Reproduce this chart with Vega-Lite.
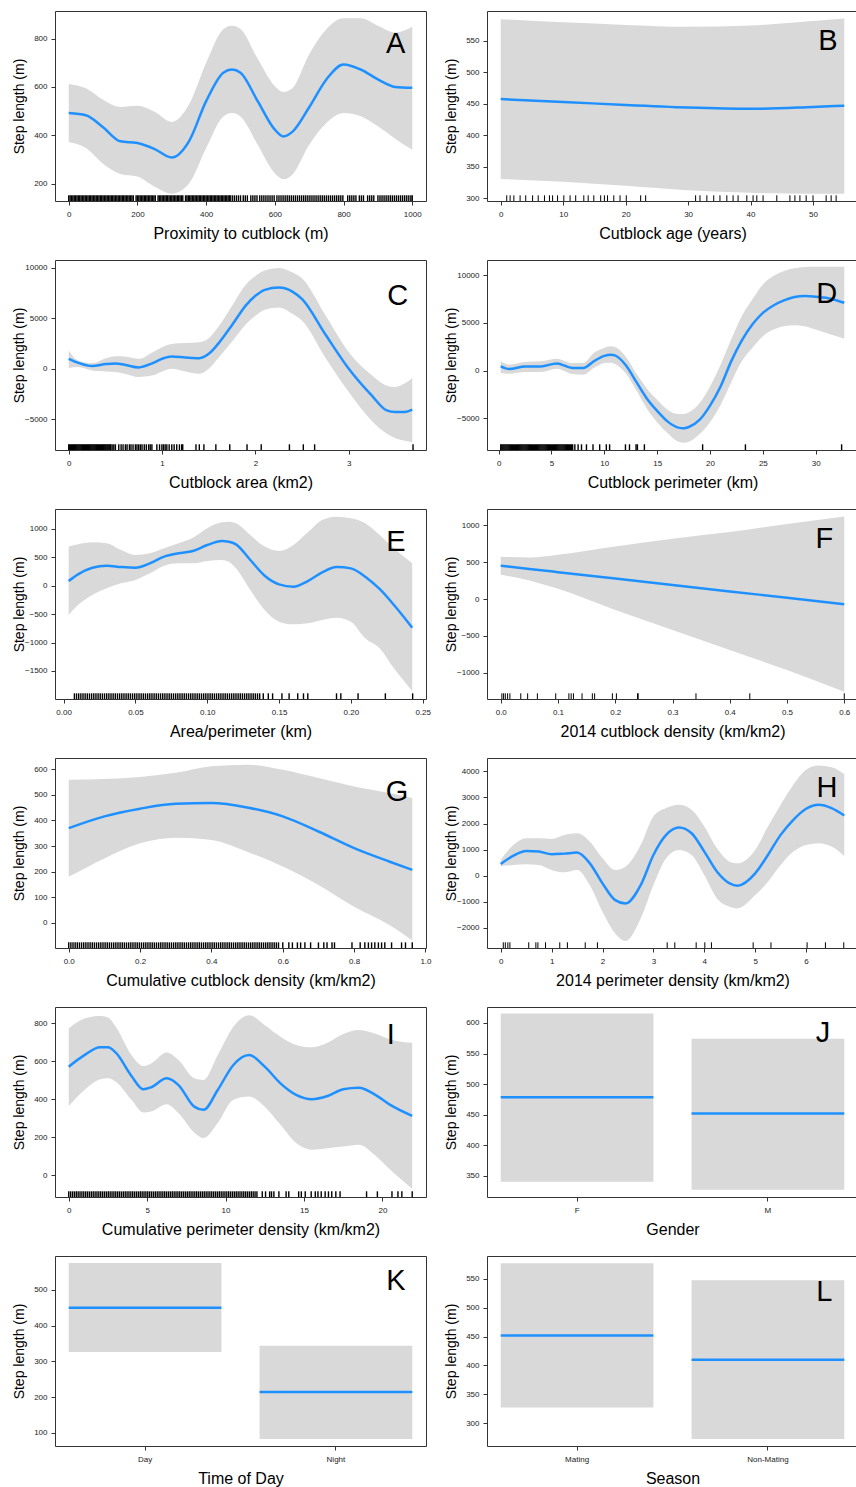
{
"$schema":"https://vega.github.io/schema/vega-lite/v6.json",
"background":"white",
"padding":{"left":11,"top":10,"right":0,"bottom":0},
"columns":2,
"bounds":"flush",
"spacing":{"row":59,"column":61},
"concat":[
{"width":371,"height":190,
 "data":{"values":[
 {"x":0,"fit":492,"lo":372,"hi":612},{"x":50,"fit":483,"lo":347,"hi":594},{"x":100,"fit":433,"lo":282,"hi":547},{"x":150,"fit":375,"lo":240,"hi":517},{"x":200,"fit":368,"lo":229,"hi":522},{"x":250,"fit":343,"lo":187,"hi":497},{"x":300,"fit":308,"lo":158,"hi":455},{"x":350,"fit":375,"lo":200,"hi":527},{"x":400,"fit":541,"lo":347,"hi":700},{"x":450,"fit":659,"lo":478,"hi":839},{"x":475,"fit":672,"lo":492,"hi":853},{"x":500,"fit":659,"lo":478,"hi":840},{"x":550,"fit":541,"lo":361,"hi":716},{"x":600,"fit":423,"lo":243,"hi":603},{"x":625,"fit":395,"lo":218,"hi":579},{"x":650,"fit":413,"lo":236,"hi":593},{"x":700,"fit":516,"lo":361,"hi":735},{"x":750,"fit":631,"lo":451,"hi":839},{"x":800,"fit":693,"lo":492,"hi":884},{"x":850,"fit":672,"lo":479,"hi":884},{"x":900,"fit":631,"lo":437,"hi":853},{"x":950,"fit":600,"lo":386,"hi":825},{"x":1000,"fit":596,"lo":340,"hi":849}]},
 "layer":[
  {"mark":{"type":"area","color":"#D9D9D9","interpolate":"monotone"},
   "encoding":{"x":{"field":"x","type":"quantitative","scale":{"domain":[-40,1040],"nice":false,"zero":false},"axis":{"values":[0,200,400,600,800,1000],"format":"d","tickCount":20,"title":"Proximity to cutblock (m)"}},
    "y":{"field":"lo","type":"quantitative","scale":{"domain":[128,914],"nice":false,"zero":false},"axis":{"values":[200,400,600,800],"format":"d","tickCount":20,"title":"Step length (m)"}},
    "y2":{"field":"hi"}}},
  {"mark":{"type":"line","color":"#1E90FF","strokeWidth":2.5,"interpolate":"monotone"},
   "encoding":{"x":{"field":"x","type":"quantitative"},"y":{"field":"fit","type":"quantitative"}}},
  {"data":{"values":[0,4,8,12,16,20,24,28,32,36,40,44,48,52,56,60,64,68,72,76,80,84,88,92,96,100,104,108,112,116,120,124,128,132,136,140,144,148,152,156,160,164,168,172,176,180,184,188,196,200,204,208,212,216,220,224,228,232,236,240,244,248,252,260,264,268,272,276,280,284,288,292,296,300,304,308,312,316,320,324,328,332,340,344,348,352,356,360,364,368,372,376,380,384,388,392,396,400,404,408,412,416,420,424,428,432,436,440,444,448,452,456,460,464,468,470,476,482,488,494,500,508,514,520,530,536,542,548,556,562,568,574,580,586,592,598,606,612,618,624,630,636,642,648,654,660,666,672,678,684,690,696,702,708,714,720,726,732,738,744,750,756,762,768,774,780,786,792,798,812,818,824,830,836,846,852,858,870,876,882,888,900,906,912,918,924,930,936,942,948,954,960,966,972,978,984,990,996,1000]},
   "mark":{"type":"rule","color":"#000","strokeWidth":1.4},
   "encoding":{"x":{"field":"data","type":"quantitative"},"y":{"datum":128},"y2":{"datum":151.6}}},
  {"data":{"values":[{}]},"mark":{"type":"text","text":"A","fontSize":29,"font":"Liberation Sans","color":"#000","align":"center","baseline":"middle"},
   "encoding":{"x":{"datum":952},"y":{"datum":776}}}
 ]},
{"width":371,"height":190,
 "data":{"values":[
 {"x":0,"fit":457.5,"lo":331,"hi":584},{"x":10,"fit":453,"lo":326.5,"hi":579},{"x":20,"fit":448,"lo":320,"hi":575},{"x":30,"fit":444,"lo":313,"hi":572},{"x":40,"fit":442,"lo":309,"hi":574},{"x":50,"fit":445,"lo":307.4,"hi":581},{"x":55,"fit":447,"lo":307.4,"hi":585}]},
 "layer":[
  {"mark":{"type":"area","color":"#D9D9D9","interpolate":"monotone"},
   "encoding":{"x":{"field":"x","type":"quantitative","scale":{"domain":[-2.2,57.2],"nice":false,"zero":false},"axis":{"values":[0,10,20,30,40,50],"format":"d","tickCount":20,"title":"Cutblock age (years)"}},
    "y":{"field":"lo","type":"quantitative","scale":{"domain":[296,597],"nice":false,"zero":false},"axis":{"values":[300,350,400,450,500,550],"format":"d","tickCount":20,"title":"Step length (m)"}},
    "y2":{"field":"hi"}}},
  {"mark":{"type":"line","color":"#1E90FF","strokeWidth":2.5,"interpolate":"monotone"},
   "encoding":{"x":{"field":"x","type":"quantitative"},"y":{"field":"fit","type":"quantitative"}}},
  {"data":{"values":[0.96,1.5,2.1,3.1,4.0,5.1,6.0,7.0,7.8,8.3,9.1,10.1,11.1,12.0,13.3,14.0,14.9,16.0,16.6,17.1,18.1,19.1,20.1,22.4,23.2,31.2,31.9,33.0,34.1,35.1,36.2,37.2,38.0,39.4,40.4,41.0,42.0,44.2,46.3,47.1,47.9,48.9,50.0,52.1,52.9,53.7]},
   "mark":{"type":"rule","color":"#000","strokeWidth":1},
   "encoding":{"x":{"field":"data","type":"quantitative"},"y":{"datum":296},"y2":{"datum":305}}},
  {"data":{"values":[{}]},"mark":{"type":"text","text":"B","fontSize":29,"font":"Liberation Sans","color":"#000","align":"center","baseline":"middle"},
   "encoding":{"x":{"datum":52.4},"y":{"datum":549.5}}}
 ]},
{"width":371,"height":190,
 "data":{"values":[
 {"x":0,"fit":988,"lo":70,"hi":1810},{"x":0.1,"fit":593,"lo":166,"hi":823},{"x":0.25,"fit":264,"lo":-163,"hi":560},{"x":0.4,"fit":462,"lo":-262,"hi":1054},{"x":0.5,"fit":528,"lo":-328,"hi":1250},{"x":0.6,"fit":396,"lo":-492,"hi":1218},{"x":0.75,"fit":133,"lo":-820,"hi":988},{"x":0.9,"fit":560,"lo":-656,"hi":1646},{"x":1.0,"fit":988,"lo":-262,"hi":2140},{"x":1.1,"fit":1218,"lo":0,"hi":2468},{"x":1.25,"fit":1120,"lo":-262,"hi":2567},{"x":1.4,"fit":1054,"lo":-492,"hi":2633},{"x":1.5,"fit":1482,"lo":0,"hi":3027},{"x":1.6,"fit":2468,"lo":1054,"hi":4113},{"x":1.75,"fit":4343,"lo":2698,"hi":6250},{"x":1.9,"fit":6316,"lo":4442,"hi":8388},{"x":2.0,"fit":7237,"lo":5264,"hi":9211},{"x":2.1,"fit":7829,"lo":5856,"hi":9737},{"x":2.25,"fit":8059,"lo":6086,"hi":10000},{"x":2.4,"fit":7632,"lo":5428,"hi":9540},{"x":2.5,"fit":6908,"lo":4771,"hi":8948},{"x":2.75,"fit":3400,"lo":1100,"hi":5300},{"x":3.0,"fit":0,"lo":-2301,"hi":1645},{"x":3.25,"fit":-2700,"lo":-5200,"hi":-660},{"x":3.4,"fit":-4100,"lo":-6400,"hi":-1650},{"x":3.5,"fit":-4300,"lo":-6900,"hi":-1800},{"x":3.6,"fit":-4280,"lo":-7150,"hi":-1450},{"x":3.68,"fit":-4044,"lo":-7300,"hi":-920}]},
 "layer":[
  {"mark":{"type":"area","color":"#D9D9D9","interpolate":"monotone"},
   "encoding":{"x":{"field":"x","type":"quantitative","scale":{"domain":[-0.147,3.827],"nice":false,"zero":false},"axis":{"values":[0,1,2,3],"format":"d","tickCount":20,"title":"Cutblock area (km2)"}},
    "y":{"field":"lo","type":"quantitative","scale":{"domain":[-8060,10790],"nice":false,"zero":false},"axis":{"values":[-5000,0,5000,10000],"format":"d","tickCount":20,"title":"Step length (m)"}},
    "y2":{"field":"hi"}}},
  {"mark":{"type":"line","color":"#1E90FF","strokeWidth":2.5,"interpolate":"monotone"},
   "encoding":{"x":{"field":"x","type":"quantitative"},"y":{"field":"fit","type":"quantitative"}}},
  {"data":{"values":[0,0.01,0.02,0.03,0.04,0.05,0.06,0.07,0.08,0.09,0.1,0.11,0.12,0.13,0.14,0.15,0.16,0.17,0.18,0.19,0.2,0.21,0.22,0.23,0.24,0.25,0.26,0.27,0.28,0.29,0.3,0.31,0.32,0.33,0.34,0.35,0.36,0.37,0.38,0.39,0.4,0.41,0.42,0.43,0.44,0.45,0.465,0.483,0.5,0.536,0.561,0.582,0.607,0.625,0.65,0.667,0.689,0.714,0.731,0.749,0.767,0.785,0.809,0.831,0.856,0.873,0.891,0.944,0.973,0.998,1.015,1.033,1.051,1.076,1.104,1.129,1.157,1.186,1.21,1.221,1.363,1.399,1.448,1.576,1.725,1.91,2.062,2.364,2.513,2.634,3.688]},
   "mark":{"type":"rule","color":"#000","strokeWidth":1.4},
   "encoding":{"x":{"field":"data","type":"quantitative"},"y":{"datum":-8060},"y2":{"datum":-7494}}},
  {"data":{"values":[{}]},"mark":{"type":"text","text":"C","fontSize":29,"font":"Liberation Sans","color":"#000","align":"center","baseline":"middle"},
   "encoding":{"x":{"datum":3.525},"y":{"datum":7237}}}
 ]},
{"width":371,"height":190,
 "data":{"values":[
 {"x":0.2,"fit":445,"lo":-258,"hi":972},{"x":1,"fit":164,"lo":-328,"hi":620},{"x":2.5,"fit":445,"lo":-153,"hi":901},{"x":4,"fit":445,"lo":-153,"hi":972},{"x":5.5,"fit":761,"lo":199,"hi":1253},{"x":7,"fit":269,"lo":-363,"hi":796},{"x":8,"fit":269,"lo":-433,"hi":796},{"x":9,"fit":972,"lo":269,"hi":1850},{"x":10,"fit":1550,"lo":796,"hi":2377},{"x":10.6,"fit":1674,"lo":830,"hi":2550},{"x":11,"fit":1604,"lo":691,"hi":2482},{"x":12,"fit":620,"lo":-258,"hi":1499},{"x":13,"fit":-1136,"lo":-2014,"hi":-258},{"x":14,"fit":-2893,"lo":-3947,"hi":-1839},{"x":15,"fit":-4228,"lo":-5422,"hi":-3068},{"x":16,"fit":-5352,"lo":-6581,"hi":-4122},{"x":17,"fit":-5984,"lo":-7460,"hi":-4544},{"x":17.5,"fit":-6054,"lo":-7565,"hi":-4544},{"x":18,"fit":-5914,"lo":-7460,"hi":-4368},{"x":19,"fit":-5176,"lo":-6686,"hi":-3419},{"x":20,"fit":-3666,"lo":-5422,"hi":-1663},{"x":21,"fit":-1663,"lo":-3595,"hi":620},{"x":22,"fit":972,"lo":-1242,"hi":3255},{"x":23,"fit":3150,"lo":972,"hi":5714},{"x":24,"fit":4836,"lo":2377,"hi":7471},{"x":25,"fit":6066,"lo":3607,"hi":9051},{"x":26,"fit":6838,"lo":4309,"hi":9930},{"x":27,"fit":7365,"lo":4660,"hi":10457},{"x":28,"fit":7717,"lo":4766,"hi":10738},{"x":29,"fit":7822,"lo":4660,"hi":10878},{"x":30,"fit":7752,"lo":4309,"hi":10913},{"x":31,"fit":7646,"lo":3958,"hi":10913},{"x":32,"fit":7365,"lo":3607,"hi":10913},{"x":32.7,"fit":7119,"lo":3360,"hi":10913}]},
 "layer":[
  {"mark":{"type":"area","color":"#D9D9D9","interpolate":"monotone"},
   "encoding":{"x":{"field":"x","type":"quantitative","scale":{"domain":[-1.1,34.0],"nice":false,"zero":false},"axis":{"values":[0,5,10,15,20,25,30],"format":"d","tickCount":20,"title":"Cutblock perimeter (km)"}},
    "y":{"field":"lo","type":"quantitative","scale":{"domain":[-8330,11610],"nice":false,"zero":false},"axis":{"values":[-5000,0,5000,10000],"format":"d","tickCount":20,"title":"Step length (m)"}},
    "y2":{"field":"hi"}}},
  {"mark":{"type":"line","color":"#1E90FF","strokeWidth":2.5,"interpolate":"monotone"},
   "encoding":{"x":{"field":"x","type":"quantitative"},"y":{"field":"fit","type":"quantitative"}}},
  {"data":{"values":[0.2,0.3,0.4,0.5,0.6,0.7,0.8,0.9,1,1.1,1.2,1.3,1.4,1.5,1.6,1.7,1.8,1.9,2,2.1,2.2,2.3,2.4,2.5,2.6,2.7,2.8,2.9,3,3.1,3.2,3.3,3.4,3.5,3.6,3.7,3.8,3.9,4,4.1,4.2,4.3,4.4,4.5,4.6,4.7,4.8,4.9,5,5.1,5.2,5.3,5.4,5.5,5.6,5.7,5.8,5.9,6,6.1,6.2,6.3,6.4,6.5,6.6,6.7,6.8,6.9,7,7.21,7.52,7.84,8.31,8.93,9.56,10.19,10.5,12.0,12.38,13.0,13.13,13.79,19.3,23.35,32.45]},
   "mark":{"type":"rule","color":"#000","strokeWidth":1.4},
   "encoding":{"x":{"field":"data","type":"quantitative"},"y":{"datum":-8330},"y2":{"datum":-7732}}},
  {"data":{"values":[{}]},"mark":{"type":"text","text":"D","fontSize":29,"font":"Liberation Sans","color":"#000","align":"center","baseline":"middle"},
   "encoding":{"x":{"datum":31.03},"y":{"datum":8068}}}
 ]},
{"width":371,"height":190,
 "data":{"values":[
 {"x":0.0035,"fit":84,"lo":-514,"hi":689},{"x":0.01,"fit":202,"lo":-338,"hi":730},{"x":0.02,"fit":319,"lo":-162,"hi":765},{"x":0.03,"fit":354,"lo":-45,"hi":748},{"x":0.04,"fit":331,"lo":43,"hi":630},{"x":0.05,"fit":319,"lo":102,"hi":542},{"x":0.06,"fit":395,"lo":219,"hi":571},{"x":0.07,"fit":513,"lo":354,"hi":660},{"x":0.08,"fit":572,"lo":395,"hi":748},{"x":0.09,"fit":613,"lo":395,"hi":847},{"x":0.1,"fit":718,"lo":437,"hi":1012},{"x":0.11,"fit":789,"lo":454,"hi":1117},{"x":0.115,"fit":777,"lo":425,"hi":1129},{"x":0.12,"fit":730,"lo":307,"hi":1100},{"x":0.13,"fit":454,"lo":-74,"hi":894},{"x":0.14,"fit":178,"lo":-426,"hi":690},{"x":0.15,"fit":26,"lo":-632,"hi":613},{"x":0.16,"fit":-15,"lo":-679,"hi":718},{"x":0.17,"fit":84,"lo":-661,"hi":941},{"x":0.18,"fit":237,"lo":-602,"hi":1158},{"x":0.19,"fit":331,"lo":-561,"hi":1217},{"x":0.2,"fit":307,"lo":-632,"hi":1188},{"x":0.21,"fit":161,"lo":-925,"hi":1100},{"x":0.22,"fit":-56,"lo":-1101,"hi":894},{"x":0.23,"fit":-338,"lo":-1453,"hi":660},{"x":0.2427,"fit":-737,"lo":-1852,"hi":395}]},
 "layer":[
  {"mark":{"type":"area","color":"#D9D9D9","interpolate":"monotone"},
   "encoding":{"x":{"field":"x","type":"quantitative","scale":{"domain":[-0.006,0.2523],"nice":false,"zero":false},"axis":{"values":[0,0.05,0.1,0.15,0.2,0.25],"format":".2f","tickCount":20,"title":"Area/perimeter (km)"}},
    "y":{"field":"lo","type":"quantitative","scale":{"domain":[-1993,1352],"nice":false,"zero":false},"axis":{"values":[-1500,-1000,-500,0,500,1000],"format":"d","tickCount":20,"title":"Step length (m)"}},
    "y2":{"field":"hi"}}},
  {"mark":{"type":"line","color":"#1E90FF","strokeWidth":2.5,"interpolate":"monotone"},
   "encoding":{"x":{"field":"x","type":"quantitative"},"y":{"field":"fit","type":"quantitative"}}},
  {"data":{"values":[0.0075,0.009,0.0105,0.012,0.0135,0.015,0.0165,0.018,0.0195,0.021,0.0225,0.024,0.0255,0.027,0.0285,0.03,0.0315,0.033,0.0345,0.036,0.0375,0.039,0.0405,0.042,0.0435,0.045,0.0465,0.048,0.0495,0.051,0.0525,0.054,0.0555,0.057,0.0585,0.06,0.0615,0.063,0.0645,0.066,0.0675,0.069,0.0705,0.072,0.0735,0.075,0.0765,0.078,0.0795,0.081,0.0825,0.084,0.0855,0.087,0.0885,0.09,0.0915,0.093,0.0945,0.096,0.0975,0.099,0.1005,0.102,0.1035,0.105,0.1065,0.108,0.1095,0.111,0.1125,0.114,0.1155,0.117,0.1185,0.12,0.1215,0.123,0.1245,0.126,0.1275,0.129,0.1305,0.132,0.1335,0.135,0.1365,0.139,0.1425,0.1455,0.152,0.157,0.163,0.167,0.17,0.19,0.193,0.205,0.224,0.243]},
   "mark":{"type":"rule","color":"#000","strokeWidth":1.4},
   "encoding":{"x":{"field":"data","type":"quantitative"},"y":{"datum":-1993},"y2":{"datum":-1893}}},
  {"data":{"values":[{}]},"mark":{"type":"text","text":"E","fontSize":29,"font":"Liberation Sans","color":"#000","align":"center","baseline":"middle"},
   "encoding":{"x":{"datum":0.2314},"y":{"datum":777}}}
 ]},
{"width":371,"height":190,
 "data":{"values":[
 {"x":0,"fit":449,"lo":327,"hi":571},{"x":0.05,"fit":406,"lo":250,"hi":562},{"x":0.1,"fit":363,"lo":138,"hi":600},{"x":0.2,"fit":276,"lo":-147,"hi":711},{"x":0.3,"fit":190,"lo":-418,"hi":815},{"x":0.4,"fit":103,"lo":-689,"hi":905},{"x":0.5,"fit":17,"lo":-960,"hi":1014},{"x":0.6,"fit":-70,"lo":-1253,"hi":1117}]},
 "layer":[
  {"mark":{"type":"area","color":"#D9D9D9","interpolate":"monotone"},
   "encoding":{"x":{"field":"x","type":"quantitative","scale":{"domain":[-0.024,0.624],"nice":false,"zero":false},"axis":{"values":[0,0.1,0.2,0.3,0.4,0.5,0.6],"format":".1f","tickCount":20,"title":"2014 cutblock density (km/km2)"}},
    "y":{"field":"lo","type":"quantitative","scale":{"domain":[-1352,1217],"nice":false,"zero":false},"axis":{"values":[-1000,-500,0,500,1000],"format":"d","tickCount":20,"title":"Step length (m)"}},
    "y2":{"field":"hi"}}},
  {"mark":{"type":"line","color":"#1E90FF","strokeWidth":2.5,"interpolate":"monotone"},
   "encoding":{"x":{"field":"x","type":"quantitative"},"y":{"field":"fit","type":"quantitative"}}},
  {"data":{"values":[0.002,0.005,0.008,0.012,0.016,0.035,0.047,0.064,0.096,0.119,0.123,0.127,0.142,0.16,0.164,0.195,0.202,0.239,0.24,0.341,0.435,0.6]},
   "mark":{"type":"rule","color":"#000","strokeWidth":1},
   "encoding":{"x":{"field":"data","type":"quantitative"},"y":{"datum":-1352},"y2":{"datum":-1275}}},
  {"data":{"values":[{}]},"mark":{"type":"text","text":"F","fontSize":29,"font":"Liberation Sans","color":"#000","align":"center","baseline":"middle"},
   "encoding":{"x":{"datum":0.5654},"y":{"datum":815}}}
 ]},
{"width":371,"height":190,
 "data":{"values":[
 {"x":0,"fit":370,"lo":180,"hi":559},{"x":0.1,"fit":416,"lo":252,"hi":562},{"x":0.2,"fit":446,"lo":311,"hi":570},{"x":0.3,"fit":465,"lo":333,"hi":586},{"x":0.4,"fit":468,"lo":324,"hi":612},{"x":0.5,"fit":451,"lo":278,"hi":618},{"x":0.6,"fit":416,"lo":220,"hi":598},{"x":0.7,"fit":357,"lo":148,"hi":566},{"x":0.8,"fit":292,"lo":63,"hi":533},{"x":0.9,"fit":239,"lo":-9,"hi":507},{"x":0.963,"fit":207,"lo":-68,"hi":488}]},
 "layer":[
  {"mark":{"type":"area","color":"#D9D9D9","interpolate":"monotone"},
   "encoding":{"x":{"field":"x","type":"quantitative","scale":{"domain":[-0.0385,1.0015],"nice":false,"zero":false},"axis":{"values":[0,0.2,0.4,0.6,0.8,1],"format":".1f","tickCount":20,"title":"Cumulative cutblock density (km/km2)"}},
    "y":{"field":"lo","type":"quantitative","scale":{"domain":[-98,644],"nice":false,"zero":false},"axis":{"values":[0,100,200,300,400,500,600],"format":"d","tickCount":20,"title":"Step length (m)"}},
    "y2":{"field":"hi"}}},
  {"mark":{"type":"line","color":"#1E90FF","strokeWidth":2.5,"interpolate":"monotone"},
   "encoding":{"x":{"field":"x","type":"quantitative"},"y":{"field":"fit","type":"quantitative"}}},
  {"data":{"values":[0,0.006,0.012,0.018,0.024,0.03,0.036,0.042,0.048,0.054,0.06,0.066,0.072,0.078,0.084,0.09,0.096,0.102,0.108,0.114,0.12,0.126,0.132,0.138,0.144,0.15,0.156,0.162,0.168,0.174,0.18,0.186,0.192,0.198,0.204,0.21,0.216,0.222,0.228,0.234,0.24,0.246,0.252,0.258,0.264,0.27,0.276,0.282,0.288,0.294,0.3,0.306,0.312,0.318,0.324,0.33,0.336,0.342,0.348,0.354,0.36,0.366,0.372,0.378,0.384,0.39,0.396,0.402,0.408,0.414,0.42,0.426,0.432,0.438,0.444,0.45,0.456,0.462,0.468,0.474,0.48,0.486,0.492,0.498,0.504,0.51,0.516,0.522,0.528,0.534,0.54,0.546,0.552,0.558,0.564,0.57,0.576,0.582,0.588,0.6,0.617,0.627,0.641,0.65,0.662,0.678,0.7,0.715,0.724,0.738,0.745,0.794,0.817,0.83,0.84,0.849,0.858,0.868,0.877,0.886,0.905,0.933,0.944,0.963]},
   "mark":{"type":"rule","color":"#000","strokeWidth":1.4},
   "encoding":{"x":{"field":"data","type":"quantitative"},"y":{"datum":-98},"y2":{"datum":-76}}},
  {"data":{"values":[{}]},"mark":{"type":"text","text":"G","fontSize":29,"font":"Liberation Sans","color":"#000","align":"center","baseline":"middle"},
   "encoding":{"x":{"datum":0.9205},"y":{"datum":511}}}
 ]},
{"width":371,"height":190,
 "data":{"values":[
 {"x":0,"fit":449,"lo":372,"hi":603},{"x":0.25,"fit":769,"lo":410,"hi":1180},{"x":0.5,"fit":949,"lo":436,"hi":1436},{"x":0.75,"fit":923,"lo":410,"hi":1436},{"x":1.0,"fit":821,"lo":218,"hi":1410},{"x":1.25,"fit":846,"lo":128,"hi":1564},{"x":1.5,"fit":885,"lo":218,"hi":1628},{"x":1.75,"fit":474,"lo":-359,"hi":1308},{"x":2.0,"fit":-295,"lo":-1384,"hi":667},{"x":2.25,"fit":-936,"lo":-2218,"hi":218},{"x":2.45,"fit":-1064,"lo":-2500,"hi":346},{"x":2.75,"fit":-359,"lo":-1641,"hi":1180},{"x":3.0,"fit":795,"lo":-359,"hi":2269},{"x":3.25,"fit":1564,"lo":667,"hi":2590},{"x":3.5,"fit":1846,"lo":987,"hi":2718},{"x":3.75,"fit":1628,"lo":795,"hi":2526},{"x":4.0,"fit":923,"lo":26,"hi":1885},{"x":4.25,"fit":154,"lo":-872,"hi":1051},{"x":4.5,"fit":-295,"lo":-1192,"hi":539},{"x":4.65,"fit":-384,"lo":-1256,"hi":475},{"x":5.0,"fit":90,"lo":-744,"hi":987},{"x":5.25,"fit":795,"lo":-231,"hi":1885},{"x":5.5,"fit":1564,"lo":410,"hi":2718},{"x":5.75,"fit":2141,"lo":923,"hi":3487},{"x":6.0,"fit":2564,"lo":1180,"hi":4064},{"x":6.25,"fit":2718,"lo":1244,"hi":4218},{"x":6.5,"fit":2590,"lo":1116,"hi":4154},{"x":6.75,"fit":2308,"lo":757,"hi":3897}]},
 "layer":[
  {"mark":{"type":"area","color":"#D9D9D9","interpolate":"monotone"},
   "encoding":{"x":{"field":"x","type":"quantitative","scale":{"domain":[-0.27,7.02],"nice":false,"zero":false},"axis":{"values":[0,1,2,3,4,5,6],"format":"d","tickCount":20,"title":"2014 perimeter density (km/km2)"}},
    "y":{"field":"lo","type":"quantitative","scale":{"domain":[-2770,4510],"nice":false,"zero":false},"axis":{"values":[-2000,-1000,0,1000,2000,3000,4000],"format":"d","tickCount":20,"title":"Step length (m)"}},
    "y2":{"field":"hi"}}},
  {"mark":{"type":"line","color":"#1E90FF","strokeWidth":2.5,"interpolate":"monotone"},
   "encoding":{"x":{"field":"x","type":"quantitative"},"y":{"field":"fit","type":"quantitative"}}},
  {"data":{"values":[0.05,0.09,0.14,0.18,0.55,0.69,0.73,0.88,1.16,1.31,1.66,1.9,3.27,3.42,3.84,4.01,4.14,4.96,5.31,6.02,6.38,6.74]},
   "mark":{"type":"rule","color":"#000","strokeWidth":1},
   "encoding":{"x":{"field":"data","type":"quantitative"},"y":{"datum":-2770},"y2":{"datum":-2552}}},
  {"data":{"values":[{}]},"mark":{"type":"text","text":"H","fontSize":29,"font":"Liberation Sans","color":"#000","align":"center","baseline":"middle"},
   "encoding":{"x":{"datum":6.41},"y":{"datum":3359}}}
 ]},
{"width":371,"height":190,
 "data":{"values":[
 {"x":0,"fit":572,"lo":365,"hi":774},{"x":1,"fit":633,"lo":449,"hi":826},{"x":2,"fit":674,"lo":505,"hi":839},{"x":2.5,"fit":674,"lo":511,"hi":832},{"x":3,"fit":646,"lo":493,"hi":783},{"x":4,"fit":523,"lo":397,"hi":633},{"x":4.75,"fit":453,"lo":330,"hi":575},{"x":5.25,"fit":463,"lo":335,"hi":589},{"x":6.25,"fit":511,"lo":374,"hi":647},{"x":7,"fit":475,"lo":326,"hi":607},{"x":8,"fit":361,"lo":225,"hi":511},{"x":8.6,"fit":344,"lo":195,"hi":502},{"x":9.5,"fit":449,"lo":274,"hi":633},{"x":10.5,"fit":581,"lo":397,"hi":783},{"x":11.5,"fit":633,"lo":414,"hi":844},{"x":12.5,"fit":572,"lo":361,"hi":791},{"x":13.5,"fit":484,"lo":265,"hi":730},{"x":14.5,"fit":423,"lo":169,"hi":686},{"x":15.5,"fit":400,"lo":134,"hi":674},{"x":16.5,"fit":417,"lo":142,"hi":698},{"x":17.5,"fit":453,"lo":151,"hi":744},{"x":18.5,"fit":461,"lo":160,"hi":765},{"x":19.5,"fit":426,"lo":107,"hi":747},{"x":20.5,"fit":370,"lo":28,"hi":716},{"x":21.9,"fit":312,"lo":-73,"hi":698}]},
 "layer":[
  {"mark":{"type":"area","color":"#D9D9D9","interpolate":"monotone"},
   "encoding":{"x":{"field":"x","type":"quantitative","scale":{"domain":[-0.876,22.78],"nice":false,"zero":false},"axis":{"values":[0,5,10,15,20],"format":"d","tickCount":20,"title":"Cumulative perimeter density (km/km2)"}},
    "y":{"field":"lo","type":"quantitative","scale":{"domain":[-116,887],"nice":false,"zero":false},"axis":{"values":[0,200,400,600,800],"format":"d","tickCount":20,"title":"Step length (m)"}},
    "y2":{"field":"hi"}}},
  {"mark":{"type":"line","color":"#1E90FF","strokeWidth":2.5,"interpolate":"monotone"},
   "encoding":{"x":{"field":"x","type":"quantitative"},"y":{"field":"fit","type":"quantitative"}}},
  {"data":{"values":[0,0.12,0.24,0.36,0.48,0.6,0.72,0.84,0.96,1.08,1.2,1.32,1.44,1.56,1.68,1.8,1.92,2.04,2.16,2.28,2.4,2.52,2.64,2.76,2.88,3,3.12,3.24,3.36,3.48,3.6,3.72,3.84,3.96,4.08,4.2,4.32,4.44,4.56,4.68,4.8,4.92,5.04,5.16,5.28,5.4,5.52,5.64,5.76,5.88,6,6.12,6.24,6.36,6.48,6.6,6.72,6.84,6.96,7.08,7.2,7.32,7.44,7.56,7.68,7.8,7.92,8.04,8.16,8.28,8.4,8.52,8.64,8.76,8.88,9,9.12,9.24,9.36,9.48,9.6,9.72,9.84,9.96,10.08,10.2,10.32,10.44,10.56,10.68,10.8,10.92,11.04,11.16,11.28,11.4,11.52,11.64,11.76,11.88,12,12.34,12.55,12.81,12.93,13.08,13.4,13.86,14.03,14.66,14.83,15.08,15.46,15.72,15.89,16.1,16.35,16.56,16.77,17.03,17.3,18.99,19.68,20.61,20.99,21.24,21.9]},
   "mark":{"type":"rule","color":"#000","strokeWidth":1.4},
   "encoding":{"x":{"field":"data","type":"quantitative"},"y":{"datum":-116},"y2":{"datum":-86}}},
  {"data":{"values":[{}]},"mark":{"type":"text","text":"I","fontSize":29,"font":"Liberation Sans","color":"#000","align":"center","baseline":"middle"},
   "encoding":{"x":{"datum":20.53},"y":{"datum":739}}}
 ]},
{"width":371,"height":190,
 "data":{"values":[{"g":"F","fit":478.6,"lo":340.6,"hi":615.3},{"g":"M","fit":451.8,"lo":327.5,"hi":574.3}]},
 "layer":[
  {"mark":{"type":"rect","color":"#D9D9D9"},
   "encoding":{"x":{"field":"g","type":"nominal","scale":{"type":"band","paddingInner":0.2,"paddingOuter":0.072},"axis":{"labelAngle":0,"title":"Gender"}},
    "y":{"field":"lo","type":"quantitative","scale":{"domain":[315.5,626],"nice":false,"zero":false},"axis":{"values":[350,400,450,500,550,600],"format":"d","tickCount":20,"title":"Step length (m)"}},
    "y2":{"field":"hi"}}},
  {"mark":{"type":"rule","color":"#1E90FF","strokeWidth":2.5},
   "encoding":{"x":{"field":"g","type":"nominal","bandPosition":0},"x2":{"field":"g","bandPosition":1},"y":{"field":"fit","type":"quantitative"}}},
  {"data":{"values":[{}]},"mark":{"type":"text","text":"J","fontSize":29,"font":"Liberation Sans","color":"#000","align":"center","baseline":"middle"},
   "encoding":{"x":{"datum":"M","type":"nominal","bandPosition":0.86},"y":{"datum":583}}}
 ]},
{"width":371,"height":190,
 "data":{"values":[{"g":"Day","fit":450.5,"lo":326.6,"hi":575.5},{"g":"Night","fit":214.7,"lo":83.2,"hi":344}]},
 "layer":[
  {"mark":{"type":"rect","color":"#D9D9D9"},
   "encoding":{"x":{"field":"g","type":"nominal","scale":{"type":"band","paddingInner":0.2,"paddingOuter":0.072},"axis":{"labelAngle":0,"title":"Time of Day"}},
    "y":{"field":"lo","type":"quantitative","scale":{"domain":[63.6,595],"nice":false,"zero":false},"axis":{"values":[100,200,300,400,500],"format":"d","tickCount":20,"title":"Step length (m)"}},
    "y2":{"field":"hi"}}},
  {"mark":{"type":"rule","color":"#1E90FF","strokeWidth":2.5},
   "encoding":{"x":{"field":"g","type":"nominal","bandPosition":0},"x2":{"field":"g","bandPosition":1},"y":{"field":"fit","type":"quantitative"}}},
  {"data":{"values":[{}]},"mark":{"type":"text","text":"K","fontSize":29,"font":"Liberation Sans","color":"#000","align":"center","baseline":"middle"},
   "encoding":{"x":{"datum":"Night","type":"nominal","bandPosition":0.893},"y":{"datum":525}}}
 ]},
{"width":371,"height":190,
 "data":{"values":[{"g":"Mating","fit":451.7,"lo":327.6,"hi":576.5},{"g":"Non-Mating","fit":409.8,"lo":273,"hi":547.2}]},
 "layer":[
  {"mark":{"type":"rect","color":"#D9D9D9"},
   "encoding":{"x":{"field":"g","type":"nominal","scale":{"type":"band","paddingInner":0.2,"paddingOuter":0.072},"axis":{"labelAngle":0,"title":"Season"}},
    "y":{"field":"lo","type":"quantitative","scale":{"domain":[261,589],"nice":false,"zero":false},"axis":{"values":[300,350,400,450,500,550],"format":"d","tickCount":20,"title":"Step length (m)"}},
    "y2":{"field":"hi"}}},
  {"mark":{"type":"rule","color":"#1E90FF","strokeWidth":2.5},
   "encoding":{"x":{"field":"g","type":"nominal","bandPosition":0},"x2":{"field":"g","bandPosition":1},"y":{"field":"fit","type":"quantitative"}}},
  {"data":{"values":[{}]},"mark":{"type":"text","text":"L","fontSize":29,"font":"Liberation Sans","color":"#000","align":"center","baseline":"middle"},
   "encoding":{"x":{"datum":"Non-Mating","type":"nominal","bandPosition":0.87},"y":{"datum":527}}}
 ]}
],
"config":{
 "view":{"stroke":"#333","strokeWidth":1},
 "font":"Liberation Sans",
 "axis":{"grid":false,"domain":false,"ticks":true,"tickColor":"#333","tickSize":4,"labelFont":"Liberation Sans","labelFontSize":8,"labelColor":"#222","labelOverlap":false,"labelFlush":false,"titleFont":"Liberation Sans","titleFontWeight":"normal","titleColor":"#000"},
 "axisX":{"labelPadding":5,"titleFontSize":16,"titleY":32,"titleBaseline":"middle","labelAngle":0},
 "axisY":{"labelPadding":4,"titleFontSize":14,"titleX":-36,"titleBaseline":"middle","titleAngle":-90}
}
}
